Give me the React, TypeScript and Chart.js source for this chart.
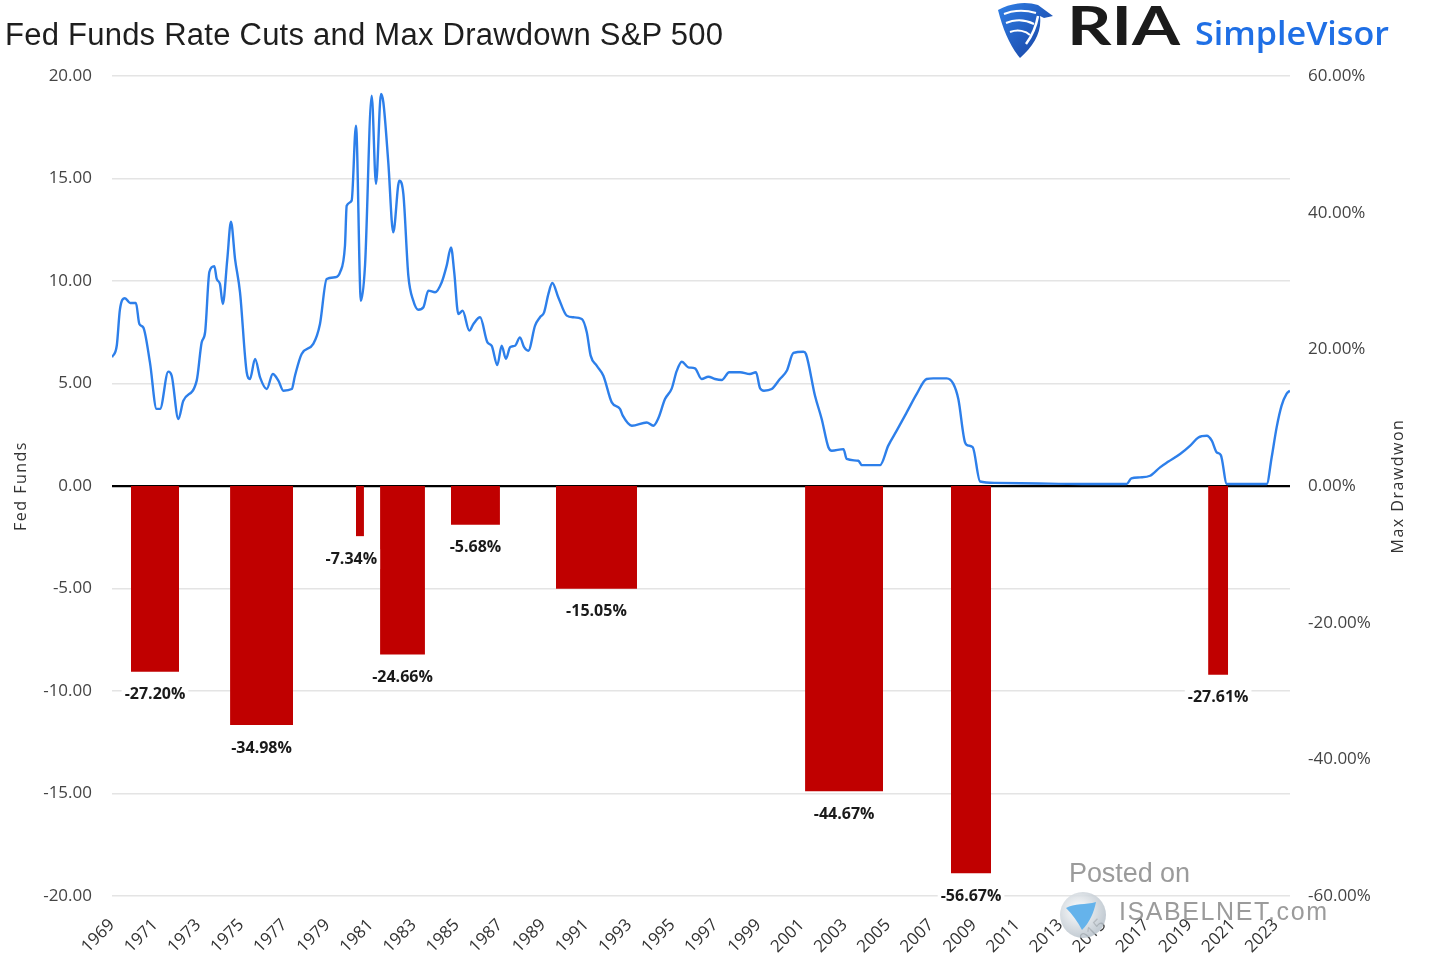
import { useEffect, useRef } from "react";
import { Chart, registerables } from "chart.js";

Chart.register(...registerables);

// x axis labels (every other year)
const tickYears = [
  1969, 1971, 1973, 1975, 1977, 1979, 1981, 1983, 1985, 1987, 1989, 1991, 1993, 1995,
  1997, 1999, 2001, 2003, 2005, 2007, 2009, 2011, 2013, 2015, 2017, 2019, 2021, 2023,
];

// Fed funds rate (decimal year / percent)
const fedYears = [
  1969.0, 1969.22, 1969.37, 1969.6, 1969.84, 1970.11, 1970.27, 1970.45, 1970.76, 1971.07,
  1971.23, 1971.61, 1971.77, 1972.08, 1972.31, 1972.93, 1973.16, 1973.32, 1973.52, 1973.75,
  1973.86, 1974.01, 1974.14, 1974.35, 1974.52, 1974.71, 1974.94, 1975.25, 1975.4, 1975.64,
  1975.87, 1976.18, 1976.46, 1976.72, 1976.95, 1977.34, 1977.49, 1977.8, 1978.34, 1978.65,
  1978.96, 1979.35, 1979.58, 1979.81, 1979.89, 1980.12, 1980.32, 1980.55, 1980.74, 1981.05,
  1981.25, 1981.48, 1981.59, 1981.82, 1982.05, 1982.33, 1982.52, 1982.75, 1982.98, 1983.21,
  1983.45, 1983.68, 1983.99, 1984.3, 1984.53, 1984.73, 1984.88, 1985.07, 1985.27, 1985.58,
  1985.77, 1986.08, 1986.42, 1986.62, 1986.88, 1987.08, 1987.28, 1987.47, 1987.7, 1987.93,
  1988.12, 1988.32, 1988.63, 1988.86, 1989.05, 1989.25, 1989.43, 1989.71, 1990.1, 1990.41,
  1990.8, 1991.03, 1991.21, 1991.49, 1991.8, 1992.19, 1992.57, 1992.7, 1993.12, 1993.81,
  1994.12, 1994.35, 1994.66, 1994.97, 1995.2, 1995.44, 1995.74, 1996.05, 1996.36, 1996.67,
  1996.98, 1997.29, 1997.64, 1998.14, 1998.6, 1998.88, 1999.07, 1999.25, 1999.61, 1999.99,
  2000.31, 2000.62, 2001.08, 2001.2, 2001.62, 2001.93, 2002.24, 2002.4, 2002.94, 2003.09,
  2003.63, 2003.79, 2004.64, 2005.02, 2005.41, 2005.88, 2006.34, 2006.8, 2007.11, 2007.73,
  2008.04, 2008.27, 2008.58, 2008.74, 2008.94, 2009.28, 2009.97, 2012.0, 2014.0, 2016.08,
  2016.3, 2016.7, 2017.17, 2017.63, 2018.02, 2018.56, 2019.03, 2019.41, 2019.8, 2020.03,
  2020.26, 2020.45, 2020.73, 2022.58, 2022.81, 2023.04, 2023.27, 2023.5, 2023.66,
];
const fedRates = [
  6.28, 6.84, 8.63, 9.16, 8.93, 8.93, 7.9, 7.74, 6.03, 3.76,
  3.76, 5.58, 5.38, 3.27, 4.16, 5.14, 7.0, 7.5, 10.45, 10.72,
  10.1, 9.85, 8.88, 11.07, 12.89, 11.07, 9.45, 5.55, 5.22, 6.2,
  5.3, 4.73, 5.46, 5.14, 4.65, 4.73, 5.38, 6.44, 6.93, 7.9,
  10.1, 10.18, 10.42, 11.72, 13.67, 13.92, 17.58, 9.04, 10.75, 19.04,
  14.73, 19.12, 18.72, 15.79, 12.37, 14.89, 14.24, 10.26, 9.04, 8.6,
  8.72, 9.53, 9.45, 9.94, 10.75, 11.64, 10.42, 8.39, 8.55, 7.58,
  7.9, 8.23, 7.01, 6.84, 5.9, 6.84, 6.2, 6.77, 6.84, 7.25,
  6.77, 6.6, 7.82, 8.23, 8.47, 9.37, 9.9, 9.2, 8.31, 8.23,
  8.15, 7.5, 6.36, 5.87, 5.38, 4.08, 3.76, 3.43, 2.94, 3.1,
  2.94, 3.3, 4.24, 4.75, 5.6, 6.06, 5.79, 5.74, 5.22, 5.33,
  5.22, 5.17, 5.55, 5.55, 5.46, 5.55, 4.77, 4.65, 4.73, 5.22,
  5.62, 6.49, 6.55, 6.44, 4.4, 3.27, 1.89, 1.72, 1.8, 1.32,
  1.23, 1.02, 1.02, 1.97, 2.7, 3.6, 4.49, 5.22, 5.25, 5.25,
  4.98, 4.24, 2.13, 1.97, 1.89, 0.22, 0.15, 0.12, 0.1, 0.1,
  0.37, 0.42, 0.5, 0.91, 1.19, 1.56, 1.97, 2.37, 2.45, 2.21,
  1.64, 1.51, 0.1, 0.1, 1.4, 2.86, 3.92, 4.49, 4.65,
];

// rate-cut periods and the S&P 500 max drawdown in each (%)
const cutStart = [1969.88, 1974.48, 1980.32, 1981.44, 1984.73, 1989.6, 2001.16, 2007.93, 2019.86];
const cutEnd = [1972.11, 1977.4, 1980.69, 1983.52, 1987.0, 1993.36, 2004.78, 2009.79, 2020.79];
const drawdowns = [-27.2, -34.98, -7.34, -24.66, -5.68, -15.05, -44.67, -56.67, -27.61];

const barLabels = {
  id: "barLabels",
  afterDatasetsDraw(chart: any) {
    const { ctx, scales } = chart;
    ctx.save();
    ctx.font = 'bold 16px "Open Sans"';
    ctx.textAlign = "center";
    ctx.textBaseline = "middle";
    drawdowns.forEach((v, i) => {
      let x = scales.x.getPixelForValue((cutStart[i] + cutEnd[i]) / 2);
      const y = scales.y2.getPixelForValue(v) + 23;
      const text = v.toFixed(2) + "%";
      const w = ctx.measureText(text).width;
      // keep the label clear of the next bar
      if (i < cutStart.length - 1) {
        const nextLeft = scales.x.getPixelForValue(cutStart[i + 1]);
        if (x + w / 2 > nextLeft - 3) x = nextLeft - 3 - w / 2;
      }
      ctx.fillStyle = "#fff";
      ctx.fillRect(x - w / 2 - 3, y - 10, w + 6, 20);
      ctx.fillStyle = "#1a1a1a";
      ctx.fillText(text, x, y);
    });
    ctx.restore();
  },
};

// both axis titles read bottom-to-top
const axisTitles = {
  id: "axisTitles",
  afterDraw(chart: any) {
    const { ctx, chartArea } = chart;
    const cy = (chartArea.top + chartArea.bottom) / 2;
    ctx.save();
    ctx.font = '16px "Open Sans"';
    ctx.letterSpacing = "1.5px";
    ctx.fillStyle = "#333";
    ctx.textAlign = "center";
    ctx.textBaseline = "middle";
    [
      ["Fed Funds", chartArea.left - 91],
      ["Max Drawdwon", chartArea.right + 108],
    ].forEach(([t, x]: any) => {
      ctx.save();
      ctx.translate(x, cy);
      ctx.rotate(-Math.PI / 2);
      ctx.fillText(t, 0, 0);
      ctx.restore();
    });
    ctx.restore();
  },
};

export default function App() {
  const chartRef = useRef(null);
  const chartInstance = useRef(null);

  useEffect(() => {
    document.body.style.margin = "0";
    const ctx = chartRef.current?.getContext("2d");
    Chart.defaults.font.family = '"Open Sans"';

    const barSets = drawdowns.map((v, i) => ({
      type: "line",
      label: "drawdown " + i,
      data: [
        { x: cutStart[i], y: v },
        { x: cutEnd[i], y: v },
      ],
      yAxisID: "y2",
      fill: "origin",
      backgroundColor: "#c00000",
      borderColor: "rgba(0,0,0,0)",
      borderWidth: 0,
      pointRadius: 0,
    }));

    // @ts-ignore
    chartInstance.current = new Chart(ctx, {
      type: "line",
      data: {
        datasets: [
          {
            label: "Fed Funds",
            data: fedYears.map((x, i) => ({ x, y: fedRates[i] })),
            yAxisID: "y",
            borderColor: "#2d7fea",
            borderWidth: 2.4,
            pointRadius: 0,
            fill: false,
            cubicInterpolationMode: "monotone",
          },
          ...barSets,
        ],
      },
      options: {
        animation: false,
        responsive: true,
        maintainAspectRatio: false,
        layout: { padding: { top: 76, left: 0, right: 0, bottom: 0 } },
        plugins: {
          legend: { display: false },
          tooltip: { enabled: false },
        },
        scales: {
          x: {
            type: "linear",
            min: 1969,
            max: 2023.66,
            afterBuildTicks: (axis) => {
              axis.ticks = tickYears.map((v) => ({ value: v }));
            },
            afterFit: (s) => {
              s.height = 82;
            },
            grid: { display: false, drawTicks: false },
            border: { display: false },
            ticks: {
              autoSkip: false,
              maxRotation: 45,
              minRotation: 45,
              padding: 19,
              color: "#333",
              font: { size: 17 },
              callback: (v) => String(v),
            },
          },
          y: {
            position: "left",
            min: -20,
            max: 20,
            afterFit: (s) => {
              s.width = 112;
            },
            grid: {
              drawTicks: false,
              color: (c) => (c.tick.value === 0 ? "#000" : "#e4e4e4"),
              lineWidth: (c) => (c.tick.value === 0 ? 2.2 : 1.5),
            },
            border: { display: false },
            ticks: {
              stepSize: 5,
              padding: 20,
              color: "#444",
              font: { size: 17 },
              callback: (v) => Number(v).toFixed(2),
            },
          },
          y2: {
            position: "right",
            min: -60,
            max: 60,
            afterFit: (s) => {
              s.width = 146;
            },
            grid: { display: false, drawTicks: false },
            border: { display: false },
            ticks: {
              stepSize: 20,
              padding: 18,
              color: "#444",
              font: { size: 17 },
              callback: (v) => Number(v).toFixed(2) + "%",
            },
          },
        },
      },
      plugins: [barLabels, axisTitles],
    });

    return () => {
      chartInstance.current.destroy();
    };
  }, []);

  return (
    <div style={{ position: "relative", width: 1436, height: 978, background: "#fff" }}>
      <canvas ref={chartRef} />
      <svg
        width={1436}
        height={978}
        style={{ position: "absolute", left: 0, top: 0, pointerEvents: "none" }}
      >
        <defs>
          <linearGradient id="eagle" x1="0" y1="0" x2="1" y2="1">
            <stop offset="0" stopColor="#2f7fe6" />
            <stop offset="1" stopColor="#173f9e" />
          </linearGradient>
          <radialGradient id="globe" cx="0.4" cy="0.4" r="0.6">
            <stop offset="0" stopColor="#ffffff" />
            <stop offset="1" stopColor="#b9c3cc" />
          </radialGradient>
        </defs>
        <text x={5} y={45} fontFamily="Liberation Sans" fontSize={31} fill="#1e1e1e" textLength={718}>
          Fed Funds Rate Cuts and Max Drawdown S&amp;P 500
        </text>

        {/* logo */}
        <g transform="translate(998,2)">
          <path
            d="M0,8 C12,1 28,-1 40,3 L55,14 L46,16 L42,14 C44,30 36,44 22,56 C12,44 5,28 0,8 Z"
            fill="url(#eagle)"
          />
          <path d="M6,12 C16,8 28,8 38,11" stroke="#fff" strokeWidth={2} fill="none" />
          <path d="M8,21 C18,17 28,18 36,22" stroke="#fff" strokeWidth={2} fill="none" />
          <path d="M12,30 C20,27 28,29 32,33" stroke="#fff" strokeWidth={2} fill="none" />
          <path d="M28,42 C34,34 38,25 40,14" stroke="#fff" strokeWidth={2.5} fill="none" />
        </g>
        <text
          x={1067}
          y={45}
          fontFamily="Lato"
          fontWeight={700}
          fontSize={53}
          fill="#1b1b1b"
          textLength={113}
          lengthAdjust="spacingAndGlyphs"
        >
          RIA
        </text>
        <text
          x={1195}
          y={45}
          fontFamily="Open Sans"
          fontWeight={600}
          fontSize={33}
          fill="#1f6fe5"
          textLength={194}
          lengthAdjust="spacingAndGlyphs"
        >
          SimpleVisor
        </text>

        {/* watermark */}
        <g opacity={0.85}>
          <circle cx={1083} cy={915} r={23} fill="url(#globe)" />
          <path
            d="M1066,908 C1074,903 1086,905 1096,902 C1094,912 1090,922 1082,930 C1078,922 1072,914 1066,908 Z"
            fill="#4aa6e8"
          />
          <text x={1069} y={882} fontFamily="Liberation Sans" fontSize={27} fill="#8a8a8a" textLength={121}>
            Posted on
          </text>
          <text x={1119} y={920} fontFamily="Liberation Sans" fontSize={25} fill="#8a8a8a" textLength={208}>
            ISABELNET.com
          </text>
        </g>
      </svg>
    </div>
  );
}
